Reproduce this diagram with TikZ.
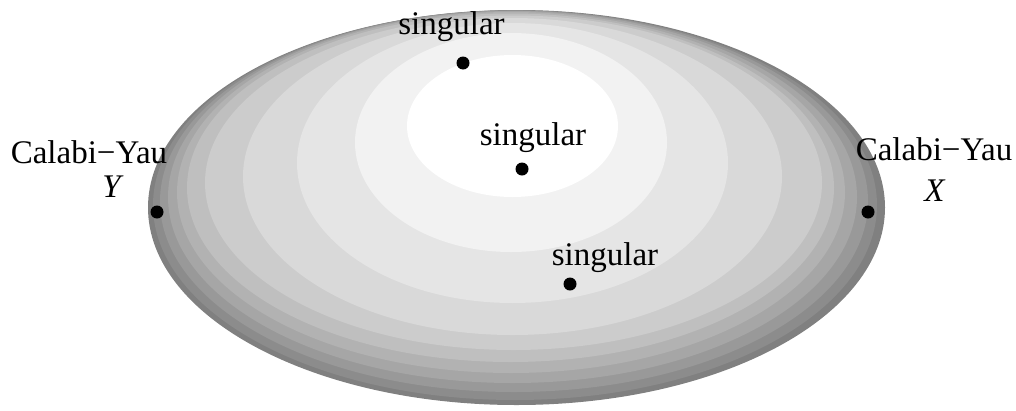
\documentclass[tikz,border=0pt]{standalone}
\usepackage{fontspec}
\setmainfont{Liberation Serif}
\begin{document}
\begin{tikzpicture}[x=1pt,y=-1pt,
  lbl/.style={inner sep=0pt,anchor=base,font=\fontsize{33}{38}\selectfont},
  pt/.style={circle,fill=black,inner sep=0pt,minimum size=13pt}]
\useasboundingbox (0,0) rectangle (1016,410);
% shaded bands (outer to inner)
\fill[black!50] (516.5,207.5) ellipse [x radius=368.5pt, y radius=197.5pt];
\fill[black!45] (515,205.1) ellipse [x radius=362pt, y radius=194.9pt];
\fill[black!40] (514,201.25) ellipse [x radius=354pt, y radius=190.75pt];
\fill[black!35] (512.5,197) ellipse [x radius=344.5pt, y radius=186pt];
\fill[black!30] (511,192.5) ellipse [x radius=334pt, y radius=180.5pt];
\fill[black!25] (510.5,187.75) ellipse [x radius=323.5pt, y radius=174.25pt];
\fill[black!20] (513.5,182.75) ellipse [x radius=308.5pt, y radius=167.25pt];
\fill[black!15] (512.5,176.5) ellipse [x radius=269.5pt, y radius=158.5pt];
\fill[black!10] (512.5,163) ellipse [x radius=215.5pt, y radius=140pt];
\fill[black!5] (511,142.5) ellipse [x radius=156pt, y radius=109.5pt];
\fill[white] (512.5,126) ellipse [x radius=105.5pt, y radius=71pt];
% points
\node[pt] (s1) at (463,63) {};
\node[pt] (s2) at (522,169) {};
\node[pt] (s3) at (570,284) {};
\node[pt] (cy) at (157,212) {};
\node[pt] (cx) at (868,212) {};
% labels
\node[lbl] (ls1) at (451.5,34) {singular};
\node[lbl] (ls2) at (533,145) {singular};
\node[lbl] (ls3) at (605,265) {singular};
\node[lbl] (lcyY) at (89,163) {Calabi−Yau};
\node[lbl] (lY) at (113,197) {\textit{Y}};
\node[lbl] (lcyX) at (934,160) {Calabi−Yau};
\node[lbl] (lX) at (935,201) {\textit{X}};
\end{tikzpicture}
\end{document}
